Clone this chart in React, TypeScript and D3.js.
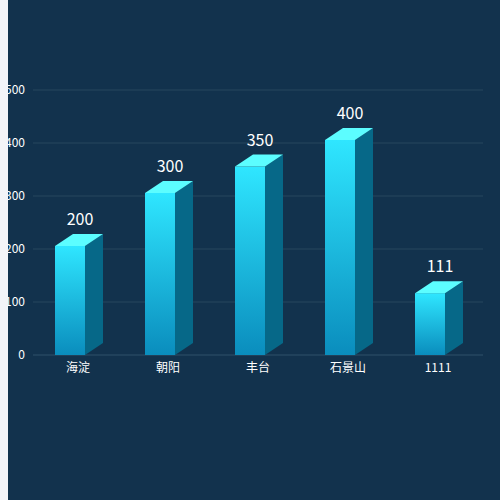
import { scaleBand, scaleLinear } from "d3";

const categories = ["海淀", "朝阳", "丰台", "石景山", "1111"];
const values = [200, 300, 350, 400, 111];
const yTicks = [0, 100, 200, 300, 400, 500];

export default function App() {
  const width = 500;
  const height = 500;
  const left = 8;
  const margin = { top: 90, bottom: 145, left: 33, right: 17 };

  const x = scaleBand<string>()
    .domain(categories)
    .range([margin.left, width - margin.right]);
  const y = scaleLinear()
    .domain([0, 500])
    .range([height - margin.bottom, margin.top]);

  const frontW = 30;
  const dx = 18;
  const dy = 12;

  return (
    <div style={{ position: "absolute", left: 0, top: 0, width, height, background: "#f3f4f8" }}>
      <svg width={width - left} height={height} viewBox={`${left} 0 ${width - left} ${height}`} style={{ position: "absolute", left, top: 0, display: "block" }}>
        <defs>
          <linearGradient id="front" x1="0" y1="0" x2="0" y2="1">
            <stop offset="0%" stopColor="#2fe6ff" />
            <stop offset="100%" stopColor="#0a8dbd" />
          </linearGradient>
        </defs>
        <rect x={left} y={0} width={width - left} height={height} fill="#12324d" />

        {yTicks.map((t) => (
          <g key={t}>
            <line x1={margin.left} x2={width - margin.right} y1={y(t)} y2={y(t)} stroke={t === 0 ? "#2e506b" : "#27475f"} strokeWidth={1} />
            <text x={25} y={y(t) + 4} textAnchor="end" fill="#ffffff" fontSize={12} fontFamily="'Noto Sans CJK SC', 'Noto Sans', sans-serif">
              {t}
            </text>
          </g>
        ))}

        {categories.map((c, i) => {
          const cx = (x(c) ?? 0) + x.bandwidth() / 2;
          const x0 = cx - 23;
          const x1 = x0 + frontW;
          const yb = y(0);
          const yt = y(values[i]) - 3;
          return (
            <g key={c}>
              <polygon points={`${x1},${yb} ${x1 + dx},${yb - dy} ${x1 + dx},${yt - dy} ${x1},${yt}`} fill="#066888" />
              <rect x={x0} y={yt} width={frontW} height={yb - yt} fill="url(#front)" />
              <polygon points={`${x0},${yt} ${x1},${yt} ${x1 + dx},${yt - dy} ${x0 + dx},${yt - dy}`} fill="#5cfdff" />
              <text x={cx + 2} y={yt - dy - 9} textAnchor="middle" fill="#ffffff" fontSize={16} fontFamily="'Noto Sans CJK SC', 'Noto Sans', sans-serif">
                {values[i]}
              </text>
              <text x={cx} y={yb + 17} textAnchor="middle" fill="#ffffff" fontSize={12} fontFamily="'Noto Sans CJK SC', 'Noto Sans', sans-serif">
                {c}
              </text>
            </g>
          );
        })}
      </svg>
    </div>
  );
}
